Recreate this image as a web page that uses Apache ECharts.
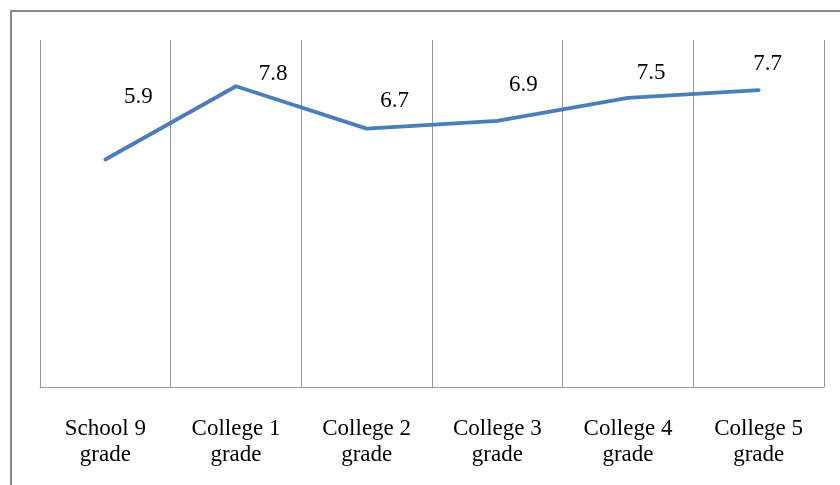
<!DOCTYPE html>
<html>
<head>
<meta charset="utf-8">
<script src="https://cdn.jsdelivr.net/npm/echarts@6/dist/echarts.min.js"></script>
<style>
  html, body { margin: 0; padding: 0; background: #fff; }
  #chart { width: 840px; height: 485px; }
</style>
</head>
<body>
<div id="chart"></div>
<script>
// Average grade by study year
const categories = ['School 9\ngrade', 'College 1\ngrade', 'College 2\ngrade', 'College 3\ngrade', 'College 4\ngrade', 'College 5\ngrade'];
const grades = [5.9, 7.8, 6.7, 6.9, 7.5, 7.7];

// Hand-placed value labels: [dx, dy] from each point
const labelNudges = [[33, -63], [37, -12], [28, -28], [26, -36], [23, -25], [9, -26]];

const chart = echarts.init(document.getElementById('chart'));
const serif = '"Liberation Serif", "Times New Roman", serif';

chart.setOption({
  animation: false,
  backgroundColor: '#fff',
  graphic: [{
    type: 'rect',
    shape: { x: 11, y: 11, width: 860, height: 500 },
    style: { fill: 'none', stroke: '#888', lineWidth: 2 },
    silent: true
  }],
  grid: { left: 40, top: 40, right: 16, bottom: 98, containLabel: false },
  xAxis: {
    type: 'category',
    data: categories,
    boundaryGap: true,
    axisLine: { show: true, lineStyle: { color: '#999', width: 1 } },
    axisTick: { show: false },
    splitLine: { show: true, lineStyle: { color: '#999', width: 1 } },
    axisLabel: {
      interval: 0,
      margin: 29,
      fontFamily: serif,
      fontSize: 23,
      color: '#000',
      lineHeight: 26
    }
  },
  yAxis: {
    type: 'value',
    min: 0,
    max: 9,
    interval: 1,
    axisLine: { show: false },
    axisTick: { show: false },
    axisLabel: { show: false },
    splitLine: { show: false }
  },
  series: [{
    type: 'line',
    data: grades.map((v, i) => ({
      value: v,
      label: { offset: labelNudges[i] }
    })),
    symbol: 'circle',
    symbolSize: 1,
    showSymbol: true,
    itemStyle: { color: 'rgba(0,0,0,0)' },
    lineStyle: { color: '#4a7ebb', width: 3.8, cap: 'round', join: 'round' },
    label: {
      show: true,
      position: 'inside',
      fontFamily: serif,
      fontSize: 23,
      color: '#000'
    }
  }]
});
</script>
</body>
</html>
